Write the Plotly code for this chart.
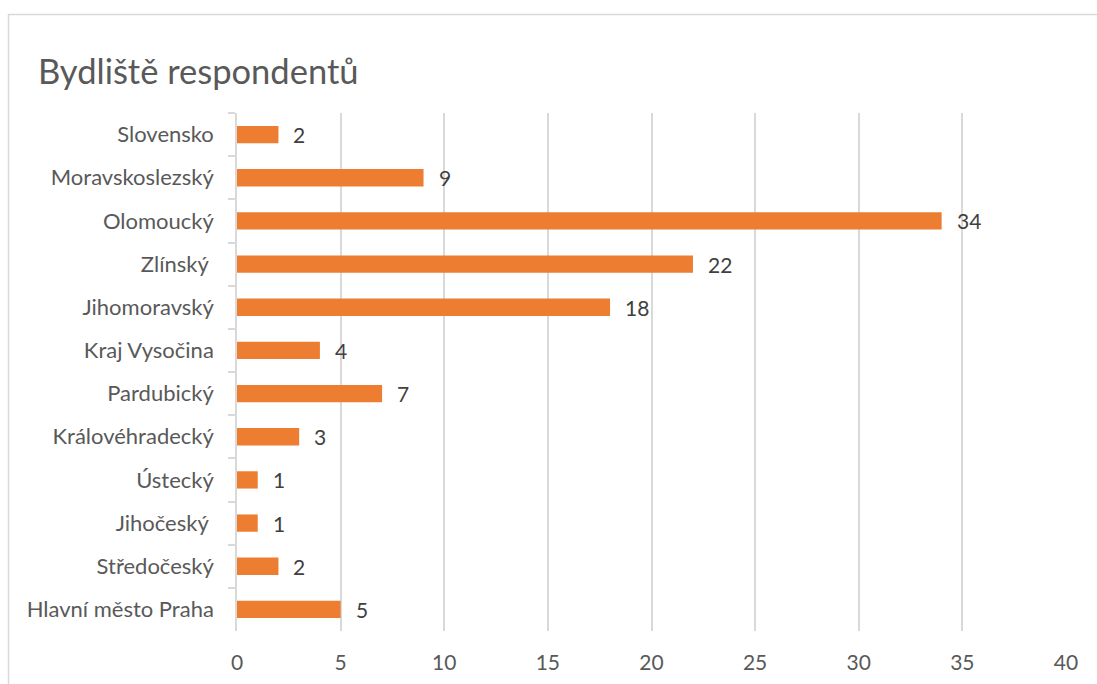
import plotly.graph_objects as go

# Regions listed top to bottom; trailing no-break space keeps the label offset
regions = [
    "Slovensko",
    "Moravskoslezský",
    "Olomoucký",
    "Zlínský\u00a0",
    "Jihomoravský",
    "Kraj Vysočina",
    "Pardubický",
    "Královéhradecký",
    "Ústecký",
    "Jihočeský\u00a0",
    "Středočeský",
    "Hlavní město Praha",
]
counts = [2, 9, 34, 22, 18, 4, 7, 3, 1, 1, 2, 5]
x_ticks = [0, 5, 10, 15, 20, 25, 30, 35, 40]

W, H = 1097, 684
L, R, T, B = 237, 31, 113, 53
PW, PH = W - L - R, H - T - B

FONT = "Lato"
TEXT = "#595959"
GRID = "#d9d9d9"
BAR = "#ED7D31"


def px_x(x):
    return (x - L) / PW


def px_y(y):
    return 1 - (y - T) / PH


fig = go.Figure(
    go.Bar(
        x=counts,
        y=regions,
        orientation="h",
        marker=dict(color=BAR, line=dict(width=0)),
        hoverinfo="x+y",
    )
)

# value labels just right of each bar end
for name, val in zip(regions, counts):
    fig.add_annotation(
        x=val, y=name, xref="x", yref="y",
        text=str(val), showarrow=False,
        xanchor="left", yanchor="middle", xshift=13,
        font=dict(family=FONT, size=21, color="#404040"),
    )

# chart frame (top and left edges)
fig.add_shape(type="line", xref="paper", yref="paper",
              x0=px_x(8), x1=px_x(1100), y0=px_y(14.5), y1=px_y(14.5),
              line=dict(color=GRID, width=1.5))
fig.add_shape(type="line", xref="paper", yref="paper",
              x0=px_x(8.5), x1=px_x(8.5), y0=px_y(14), y1=px_y(700),
              line=dict(color=GRID, width=1.5))

fig.update_layout(
    width=W, height=H,
    margin=dict(l=L, r=R, t=T, b=B, autoexpand=False),
    paper_bgcolor="white", plot_bgcolor="white",
    bargap=0.6,
    showlegend=False,
    title=dict(
        text="Bydliště respondentů",
        x=38 / W, xanchor="left", xref="container",
        y=1 - 72 / H, yanchor="middle",
        font=dict(family=FONT, size=34.5, color=TEXT),
    ),
    xaxis=dict(
        range=[0, 40], tickvals=x_ticks,
        showgrid=True, gridcolor=GRID, gridwidth=1.5,
        zeroline=False, showline=False, ticks="",
        tickfont=dict(family=FONT, size=21, color=TEXT),
        ticklabelstandoff=17,
        automargin=False,
    ),
    yaxis=dict(
        autorange="reversed",
        showline=True, linecolor=GRID, linewidth=1.5,
        ticks="outside", tickson="boundaries", ticklen=7, tickcolor=GRID, tickwidth=1.5,
        showgrid=False,
        tickfont=dict(family=FONT, size=22, color=TEXT),
        ticklabelstandoff=17,
        automargin=False,
    ),
)

fig.write_html("out.html")
